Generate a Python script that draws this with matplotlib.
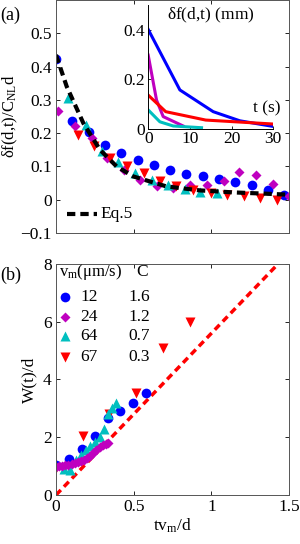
import matplotlib
matplotlib.use("Agg")
import matplotlib.pyplot as plt
import numpy as np

plt.rcParams['font.family'] = ['Liberation Serif', 'DejaVu Serif']
plt.rcParams['mathtext.fontset'] = 'custom'
plt.rcParams['mathtext.rm'] = 'Liberation Serif'
plt.rcParams['mathtext.it'] = 'Liberation Serif'

BLUE = '#0000ff'
MAG = '#bf00bf'
CYAN = '#00bfbf'
RED = '#ff0000'

# ---- panel (a): normalized profiles ----
a_blue_x = [0, 0.105, 0.21, 0.315, 0.42, 0.525, 0.63, 0.735, 0.84, 0.945, 1.05, 1.155, 1.26, 1.365, 1.47]
a_blue_y = [0.423, 0.235, 0.202, 0.163, 0.14, 0.118, 0.103, 0.088, 0.077, 0.07, 0.062, 0.052, 0.045, 0.03, 0.013]
a_mag_x = [0.01, 0.12, 0.23, 0.33, 0.44, 0.54, 0.65, 0.755, 0.86, 0.97, 1.08, 1.18, 1.29, 1.397, 1.5]
a_mag_y = [0.267, 0.22, 0.185, 0.125, 0.09, 0.06, 0.042, 0.035, 0.043, 0.045, 0.055, 0.082, 0.073, 0.047, 0.012]
a_cyan_x = [0.08, 0.19, 0.294, 0.40, 0.51, 0.615, 0.72, 0.83, 0.93, 1.035]
a_cyan_y = [0.305, 0.225, 0.145, 0.113, 0.08, 0.06, 0.045, 0.033, 0.022, 0.02]
a_red_x = [0.14, 0.245, 0.35, 0.46, 0.565, 0.67, 0.775, 0.885, 0.995, 1.1, 1.21, 1.315, 1.42]
a_red_y = [0.195, 0.16, 0.125, 0.1, 0.08, 0.057, 0.04, 0.03, 0.02, 0.015, 0.01, 0.005, 0.0]
eq5_x = [0, 0.069, 0.176, 0.283, 0.39, 0.497, 0.71, 0.926, 1.14, 1.354, 1.5]
eq5_y = [0.435, 0.34, 0.23, 0.15, 0.1, 0.07, 0.04, 0.028, 0.022, 0.018, 0.015]

# inset: raw amplitude vs time
in_blue_t = [0, 7.6, 15.6, 22, 30.4]
in_blue_v = [0.402, 0.157, 0.069, 0.032, 0.008]
in_mag_t = [0, 2, 3.6, 8.4]
in_mag_v = [0.298, 0.116, 0.049, 0.011]
in_red_t = [0, 4.2, 13.8, 30]
in_red_v = [0.136, 0.069, 0.035, 0.019]
in_cyan_t = [0, 2.8, 6, 12.8]
in_cyan_v = [0.076, 0.028, 0.011, 0.004]

# ---- panel (b): width vs distance ----
b_blue_x = [0, 0.083, 0.166, 0.249, 0.332, 0.415, 0.498, 0.581]
b_blue_y = [1.04, 1.25, 1.6, 2.03, 2.66, 2.9, 3.2, 3.53]
b_mag_x = [0, 0.02, 0.04, 0.06, 0.08, 0.10, 0.12, 0.14, 0.16, 0.18, 0.20, 0.22, 0.24, 0.26, 0.28, 0.30, 0.32, 0.335]
b_mag_y = [0.97, 1.0, 1.02, 1.03, 1.05, 1.07, 1.1, 1.13, 1.18, 1.22, 1.28, 1.35, 1.45, 1.55, 1.65, 1.72, 1.78, 1.8]
b_cyan_x = [0.05, 0.09, 0.13, 0.16, 0.19, 0.22, 0.25, 0.28, 0.31, 0.335, 0.36, 0.385]
b_cyan_y = [0.9, 0.88, 1.2, 1.4, 1.55, 1.7, 1.85, 2.0, 2.28, 2.8, 3.0, 3.18]
b_red_x = [0, 0.172, 0.344, 0.516, 0.688, 0.86]
b_red_y = [0.95, 2.05, 2.82, 3.52, 5.08, 5.98]
line_x = [0, 1.42]
line_y = [0, 7.95]

legend_vm = ['12', '24', '64', '67']
legend_C = ['1.6', '1.2', '0.7', '0.3']

fig = plt.figure(figsize=(3.0, 5.44), dpi=100)
FS = 12.5

def style(ax):
    ax.tick_params(direction='in', top=True, right=True, labelsize=FS, length=3, width=0.6, pad=3)
    for s in ax.spines.values():
        s.set_linewidth(0.7)
        s.set_color('#555555')

ms = 7
# Panel (a)
ax1 = fig.add_axes([0.1867, 0.5717, 0.7767, 0.4283])
ax1.plot(a_blue_x, a_blue_y, 'o', color=BLUE, ms=ms, mec='none')
ax1.plot(a_mag_x, a_mag_y, 'D', color=MAG, ms=ms*0.75, mec='none')
ax1.plot(a_cyan_x, a_cyan_y, '^', color=CYAN, ms=ms, mec='none')
ax1.plot(a_red_x, a_red_y, 'v', color=RED, ms=ms, mec='none')
ax1.plot(eq5_x, eq5_y, '--', color='k', lw=3, dashes=(2, 1.2))
ax1.set_xlim(0, 1.5)
ax1.set_ylim(-0.1, 0.6)
ax1.set_xticks([0, 0.5, 1, 1.5])
ax1.set_xticklabels([])
ax1.set_yticks([-0.1, 0, 0.1, 0.2, 0.3, 0.4, 0.5])
ax1.set_yticklabels(['\u22120.1', '0', '0.1', '0.2', '0.3', '0.4', '0.5'])
style(ax1)
ax1.set_ylabel(r'$\delta$f(d,t)/C$_{\rm NL}$d', fontsize=12, labelpad=0.5)
# Eq.5 legend key
ax1.plot([0.047, 0.176], [0.0815, 0.0815], '--', color='k', lw=3, dashes=(2, 1.2), transform=ax1.transAxes)
ax1.text(0.189, 0.0815, 'Eq.5', transform=ax1.transAxes, fontsize=FS, va='center', ha='left')
fig.text(0.0, 0.972, '(a)', fontsize=13, ha='left', va='center')

# inset
axi = fig.add_axes([0.494, 0.7634, 0.4167, 0.227])
axi.plot(in_blue_t, in_blue_v, color=BLUE, lw=2.2)
axi.plot(in_mag_t, in_mag_v, color=MAG, lw=2.2)
axi.plot(in_red_t, in_red_v, color=RED, lw=2.2)
axi.plot(in_cyan_t, in_cyan_v, color=CYAN, lw=2.2)
axi.set_xlim(0, 30)
axi.set_ylim(0, 0.5)
axi.set_xticks([0, 10, 20, 30])
axi.set_yticks([0, 0.2, 0.4])
axi.set_yticklabels(['0', '0.2', '0.4'])
axi.patch.set_alpha(0)
axi.spines['top'].set_visible(False)
axi.spines['right'].set_visible(False)
axi.tick_params(direction='in', labelsize=FS, length=2, width=0.6, pad=2)
for s in ['left', 'bottom']:
    axi.spines[s].set_linewidth(0.7)
axi.text(0.5, 0.92, r'$\delta$f(d,t) (mm)', transform=axi.transAxes, fontsize=FS, ha='center', va='center')
axi.text(0.95, 0.165, 't (s)', transform=axi.transAxes, fontsize=FS, ha='center', va='center')

# Panel (b)
ax2 = fig.add_axes([0.1867, 0.0901, 0.7767, 0.4246])
ax2.plot(line_x, line_y, '--', color=RED, lw=2.5, dashes=(2, 1.3))
ax2.plot(b_blue_x, b_blue_y, 'o', color=BLUE, ms=ms, mec='none')
ax2.plot(b_red_x, b_red_y, 'v', color=RED, ms=ms, mec='none')
ax2.plot(b_cyan_x, b_cyan_y, '^', color=CYAN, ms=ms, mec='none')
ax2.plot(b_mag_x, b_mag_y, 'D', color=MAG, ms=ms*0.75, mec='none')
ax2.set_xlim(0, 1.5)
ax2.set_ylim(0, 8)
ax2.set_xticks([0, 0.5, 1, 1.5])
ax2.set_xticklabels(['0', '0.5', '1', '1.5'])
ax2.set_yticks([0, 2, 4, 6, 8])
style(ax2)
ax2.set_xlabel(r'tv$_{\rm m}$/d', fontsize=FS, labelpad=1)
ax2.set_ylabel('W(t)/d', fontsize=FS, labelpad=4)
fig.text(0.0, 0.494, '(b)', fontsize=13, ha='left', va='center')

# legend table
ax2.text(0.013, 0.965, 'v$_{\\rm m}$(\u03bcm/s)', transform=ax2.transAxes,
         fontsize=FS - 0.5, ha='left', va='center')
ax2.text(0.345, 0.965, 'C', transform=ax2.transAxes, fontsize=FS, ha='left', va='center')
key_markers = [('o', BLUE, ms), ('D', MAG, ms*0.75), ('^', CYAN, ms), ('v', RED, ms)]
rows_y = [0.858, 0.772, 0.688, 0.599]
for (m, c, s), ry, vm, cc in zip(key_markers, rows_y, legend_vm, legend_C):
    ax2.plot([0.039], [ry], m, color=c, ms=s, mec='none', transform=ax2.transAxes, clip_on=False)
    ax2.text(0.103, ry, vm, transform=ax2.transAxes, fontsize=FS, ha='left', va='center')
    ax2.text(0.309, ry, cc, transform=ax2.transAxes, fontsize=FS, ha='left', va='center')

fig.savefig('out.png', dpi=100)
